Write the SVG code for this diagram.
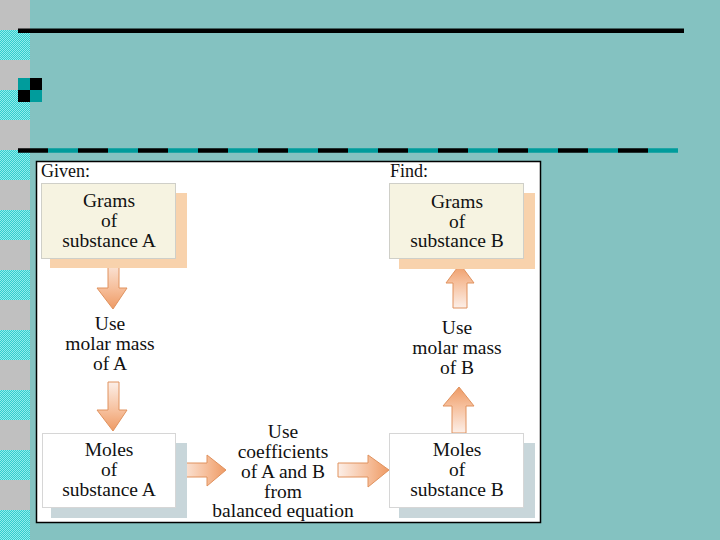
<svg xmlns="http://www.w3.org/2000/svg" width="720" height="540" viewBox="0 0 720 540">
  <defs>
    <pattern id="chk" width="2" height="2" patternUnits="userSpaceOnUse">
      <rect width="2" height="2" fill="#33CCCC" shape-rendering="crispEdges"/>
      <rect width="1" height="1" fill="#8FEDED" shape-rendering="crispEdges"/>
      <rect x="1" y="1" width="1" height="1" fill="#8FEDED" shape-rendering="crispEdges"/>
    </pattern>
    <linearGradient id="gDown" x1="0" y1="0" x2="0" y2="1">
      <stop offset="0" stop-color="#FCEFE8"/>
      <stop offset="0.6" stop-color="#F6BE9A"/>
      <stop offset="1" stop-color="#EE9A64"/>
    </linearGradient>
    <linearGradient id="gUp" x1="0" y1="1" x2="0" y2="0">
      <stop offset="0" stop-color="#FCEFE8"/>
      <stop offset="0.6" stop-color="#F6BE9A"/>
      <stop offset="1" stop-color="#EE9A64"/>
    </linearGradient>
    <linearGradient id="gRight" x1="0" y1="0" x2="1" y2="0">
      <stop offset="0" stop-color="#FCEFE8"/>
      <stop offset="0.6" stop-color="#F6BE9A"/>
      <stop offset="1" stop-color="#EE9A64"/>
    </linearGradient>
    <style>
      .t { font-family: "Liberation Serif", "Times New Roman", serif; font-size: 19.5px; fill: #111; text-anchor: middle; }
      .lbl { font-family: "Liberation Serif", "Times New Roman", serif; font-size: 18px; fill: #111; }
      .gbox { fill: #F6F3E1; stroke: #CFCFC8; stroke-width: 1; }
      .gsh { fill: #F8D2AC; }
      .mbox { fill: #FFFFFF; stroke: #D6D6D6; stroke-width: 1; }
      .msh { fill: #C8D6DA; }
      .edge { stroke: #E0925E; stroke-width: 1; stroke-linejoin: round; }
    </style>
  </defs>

  <!-- background -->
  <rect width="720" height="540" fill="#84C2C1"/>
  <g id="strip">
    <rect x="0" y="0" width="30" height="540" fill="url(#chk)"/>
    <rect x="0" y="0" width="30" height="30" fill="#C0C0C0"/>
    <rect x="0" y="60" width="30" height="30" fill="#C0C0C0"/>
    <rect x="0" y="120" width="30" height="30" fill="#C0C0C0"/>
    <rect x="0" y="180" width="30" height="30" fill="#C0C0C0"/>
    <rect x="0" y="240" width="30" height="30" fill="#C0C0C0"/>
    <rect x="0" y="300" width="30" height="30" fill="#C0C0C0"/>
    <rect x="0" y="360" width="30" height="30" fill="#C0C0C0"/>
    <rect x="0" y="420" width="30" height="30" fill="#C0C0C0"/>
    <rect x="0" y="480" width="30" height="30" fill="#C0C0C0"/>
  </g>
  <rect x="18" y="28.5" width="666" height="4.5" fill="#000"/>
  <g id="bullet">
    <rect x="18" y="78" width="12" height="12" fill="#009C9C"/>
    <rect x="30" y="78" width="12" height="12" fill="#000"/>
    <rect x="18" y="90" width="12" height="12" fill="#000"/>
    <rect x="30" y="90" width="12" height="12" fill="#009C9C"/>
  </g>
  <line x1="18" y1="150.5" x2="678" y2="150.5" stroke="#000" stroke-width="4.7" stroke-dasharray="30 30"/>
  <line x1="48" y1="150.5" x2="678" y2="150.5" stroke="#009C9C" stroke-width="4.7" stroke-dasharray="30 30"/>

  <!-- panel -->
  <rect x="36.5" y="161.5" width="504" height="361" fill="#FFFFFF" stroke="#000" stroke-width="1.5"/>
  <text class="lbl" x="41" y="177">Given:</text>
  <text class="lbl" x="390" y="177">Find:</text>

  <!-- connectors -->
  <g id="connectors">
    <path class="edge" fill="url(#gDown)" d="M108,258 L119,258 L119,288 L127,288 L113,309 L97,288 L108,288 Z"/>
    <path class="edge" fill="url(#gDown)" d="M108,382 L119,382 L119,410 L127,410 L113,431 L97,410 L108,410 Z"/>
    <path class="edge" fill="url(#gUp)" d="M453,308 L467,308 L467,283 L474,283 L460,264 L446,283 L453,283 Z"/>
    <path class="edge" fill="url(#gUp)" d="M452,433 L466,433 L466,406 L474,406 L459,387 L443,406 L452,406 Z"/>
    <path class="edge" fill="url(#gRight)" d="M177,463 L207,463 L207,455 L226,470 L207,486 L207,477 L177,477 Z"/>
    <path class="edge" fill="url(#gRight)" d="M338,463 L368,463 L368,455 L389,470 L368,487 L368,477 L338,477 Z"/>
  </g>

  <g id="gramsA">
    <rect class="gsh" x="50" y="193" width="137" height="75"/>
    <rect class="gbox" x="41.5" y="183.5" width="134" height="75"/>
    <text class="t" x="109" y="207">Grams</text>
    <text class="t" x="109" y="227">of</text>
    <text class="t" x="109" y="247">substance A</text>
  </g>

  <g id="gramsB">
    <rect class="gsh" x="399" y="193" width="136" height="76"/>
    <rect class="gbox" x="389.5" y="183.5" width="134" height="75"/>
    <text class="t" x="457" y="208">Grams</text>
    <text class="t" x="457" y="228">of</text>
    <text class="t" x="457" y="247">substance B</text>
  </g>

  <g id="molarA">
    <text class="t" x="110" y="330">Use</text>
    <text class="t" x="110" y="350">molar mass</text>
    <text class="t" x="110" y="370">of A</text>
  </g>

  <g id="molarB">
    <text class="t" x="457" y="334">Use</text>
    <text class="t" x="457" y="354">molar mass</text>
    <text class="t" x="457" y="374">of B</text>
  </g>

  <g id="molesA">
    <rect class="msh" x="51" y="443" width="136" height="75"/>
    <rect class="mbox" x="42.5" y="433.5" width="133" height="74"/>
    <text class="t" x="109" y="456">Moles</text>
    <text class="t" x="109" y="476">of</text>
    <text class="t" x="109" y="496">substance A</text>
  </g>

  <g id="molesB">
    <rect class="msh" x="399" y="443" width="136" height="75"/>
    <rect class="mbox" x="389.5" y="433.5" width="134" height="74"/>
    <text class="t" x="457" y="456">Moles</text>
    <text class="t" x="457" y="476">of</text>
    <text class="t" x="457" y="496">substance B</text>
  </g>

  <g id="coeff">
    <text class="t" x="283" y="438">Use</text>
    <text class="t" x="283" y="458">coefficients</text>
    <text class="t" x="283" y="478">of A and B</text>
    <text class="t" x="283" y="498">from</text>
    <text class="t" x="283" y="517">balanced equation</text>
  </g>
</svg>
